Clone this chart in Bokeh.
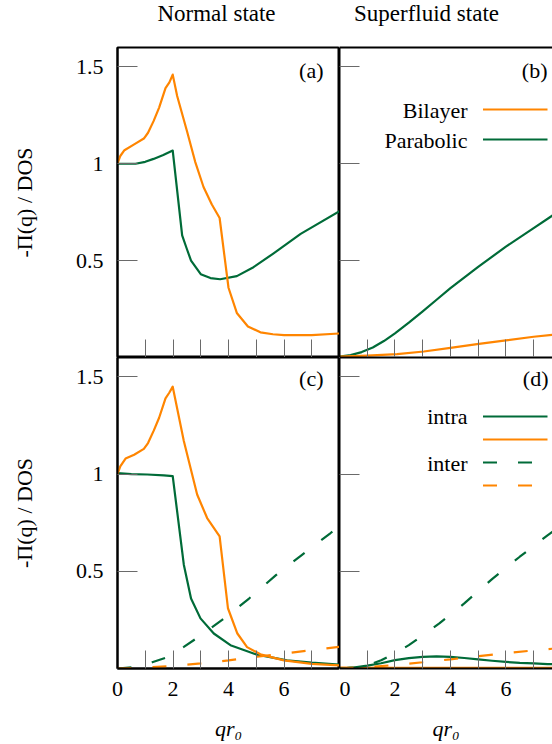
from bokeh.plotting import figure
from bokeh.layouts import column, row
from bokeh.models import Range1d, FixedTicker, Label, Arrow, LinearAxis
from bokeh.embed import file_html
from bokeh.resources import INLINE

# ---------------- data ----------------
# (a) normal state
a_bilayer_x = [0, 0.1, 0.25, 0.6, 0.95, 1.1, 1.3, 1.5, 1.73, 1.87, 1.99, 2.15, 2.5, 2.8, 3.1, 3.4, 3.68, 4.0, 4.3, 4.7, 5.15, 5.6, 6.0, 7.0, 8.0]
a_bilayer_y = [1.0, 1.04, 1.07, 1.10, 1.13, 1.16, 1.22, 1.29, 1.39, 1.42, 1.46, 1.35, 1.17, 1.01, 0.88, 0.79, 0.72, 0.36, 0.23, 0.16, 0.13, 0.12, 0.115, 0.115, 0.124]
a_parabolic_x = [0, 0.65, 1.0, 1.3, 1.65, 1.99, 2.33, 2.5, 2.65, 3.0, 3.35, 3.7, 4.3, 4.9, 5.6, 6.6, 8.0]
a_parabolic_y = [1.0, 1.0, 1.01, 1.025, 1.045, 1.068, 0.63, 0.56, 0.50, 0.43, 0.41, 0.404, 0.42, 0.466, 0.535, 0.638, 0.755]

# (b) superfluid state
b_bilayer_x = [0, 1.0, 2.08, 3.04, 4.0, 4.96, 6.0, 7.0, 8.0]
b_bilayer_y = [0.005, 0.01, 0.017, 0.031, 0.05, 0.069, 0.088, 0.107, 0.122]
b_parabolic_x = [0, 0.4, 0.8, 1.2, 1.6, 2.0, 2.5, 3.0, 3.5, 4.0, 5.0, 6.0, 7.0, 7.68, 8.0]
b_parabolic_y = [0.005, 0.012, 0.028, 0.052, 0.085, 0.125, 0.18, 0.238, 0.298, 0.358, 0.468, 0.572, 0.668, 0.733, 0.763]

# (c) normal state, intra / inter
c_bilayer_intra_x = [0, 0.1, 0.29, 0.6, 0.95, 1.1, 1.31, 1.5, 1.73, 1.87, 1.99, 2.39, 2.87, 3.23, 3.68, 3.98, 4.32, 4.67, 5.15, 6.0, 7.0, 8.0]
c_bilayer_intra_y = [1.0, 1.04, 1.08, 1.10, 1.13, 1.16, 1.225, 1.29, 1.39, 1.42, 1.45, 1.17, 0.895, 0.774, 0.68, 0.31, 0.18, 0.11, 0.073, 0.042, 0.024, 0.016]
c_parabolic_intra_x = [0, 0.5, 1.07, 1.67, 1.99, 2.39, 2.65, 2.99, 3.47, 4.07, 5.03, 6.11, 7.0, 8.0]
c_parabolic_intra_y = [1.005, 1.0, 0.998, 0.994, 0.99, 0.534, 0.36, 0.258, 0.18, 0.12, 0.071, 0.042, 0.03, 0.02]
c_parabolic_inter_x = [0, 0.5, 1.0, 1.25, 1.75, 2.39, 3.0, 3.77, 4.74, 5.71, 6.65, 7.68, 8.0]
c_parabolic_inter_y = [0.0, 0.006, 0.018, 0.032, 0.056, 0.111, 0.17, 0.25, 0.36, 0.48, 0.585, 0.697, 0.735]
c_bilayer_inter_x = [0, 1, 2, 3, 4, 5, 6, 7, 8]
c_bilayer_inter_y = [0.0, 0.005, 0.013, 0.026, 0.042, 0.06, 0.077, 0.095, 0.112]

# (d) superfluid state, intra / inter
d_parabolic_intra_x = [0, 0.5, 1.0, 1.5, 2.0, 2.5, 3.0, 3.5, 4.0, 4.5, 5.0, 5.5, 6.0, 6.5, 7.0, 7.5, 8.0]
d_parabolic_intra_y = [0.0, 0.005, 0.015, 0.027, 0.043, 0.053, 0.06, 0.062, 0.06, 0.054, 0.047, 0.04, 0.034, 0.029, 0.026, 0.023, 0.021]
d_bilayer_intra_x = [0, 2, 4, 6, 8]
d_bilayer_intra_y = [0.004, 0.003, 0.003, 0.003, 0.003]
d_parabolic_inter_x = [0, 0.5, 1.0, 1.5, 2.0, 2.5, 3.0, 3.6, 4.5, 5.5, 6.5, 7.5, 8.0]
d_parabolic_inter_y = [0.0, 0.004, 0.016, 0.042, 0.078, 0.12, 0.17, 0.232, 0.335, 0.46, 0.575, 0.685, 0.735]
d_bilayer_inter_x = [0, 1, 2, 3, 4, 5, 6, 7, 8]
d_bilayer_inter_y = [0.0, 0.007, 0.018, 0.032, 0.047, 0.063, 0.079, 0.093, 0.106]

y_ticks = [0.5, 1, 1.5]
y_tick_labels = {0.5: "0.5", 1: "1", 1.5: "1.5"}
x_ticks = [0, 2, 4, 6]
x_minor_ticks = [1, 3, 5, 7]

# ---------------- styling ----------------
FONT = "Liberation Serif"
FS = "22px"
ORANGE = "#ff8500"
GREEN = "#006b38"
TICK = "#6a6a6a"
LW = 2.2
DASH = "14 21"
X_FULL = 8.0
X_CUT = 7.68   # right-hand panels are cut by the page edge
Y_MAX = 1.6


def hide_labels(ax):
    ax.major_label_text_font_size = "1px"
    ax.major_label_text_color = None
    ax.major_label_standoff = 0


def make_panel(width, height, x_end, b_left, b_top, b_bottom, x_labels, y_labels, right_panel):
    p = figure(width=width, height=height, x_range=Range1d(0, x_end), y_range=Range1d(0, Y_MAX),
               output_backend="svg", toolbar_location=None,
               min_border_left=b_left, min_border_right=0, min_border_top=b_top, min_border_bottom=b_bottom)
    p.grid.visible = False
    p.background_fill_color = "white"
    p.border_fill_color = "white"

    xa = p.below[0]
    ya = p.left[0]

    xa.ticker = FixedTicker(ticks=x_ticks, minor_ticks=x_minor_ticks)
    xa.major_tick_in = 18
    xa.major_tick_out = 0
    xa.minor_tick_in = 18
    xa.minor_tick_out = 0
    xa.major_tick_line_color = TICK
    xa.minor_tick_line_color = TICK
    xa.axis_line_width = 2
    xa.axis_line_color = "black"
    if x_labels:
        xa.major_label_text_font = FONT
        xa.major_label_text_font_size = FS
        xa.major_label_text_color = "black"
        xa.major_label_standoff = 13
        xa.axis_label = "qr₀"
        xa.axis_label_text_font = FONT
        xa.axis_label_text_font_size = FS
        xa.axis_label_text_font_style = "italic"
        xa.axis_label_text_color = "black"
        xa.axis_label_standoff = 17
    else:
        hide_labels(xa)

    ya.ticker = FixedTicker(ticks=y_ticks, minor_ticks=[])
    ya.major_tick_in = 20
    ya.major_tick_out = 0
    ya.minor_tick_in = 0
    ya.minor_tick_out = 0
    ya.major_tick_line_color = TICK
    ya.axis_line_width = 2
    ya.axis_line_color = "black"
    if y_labels:
        ya.major_label_overrides = y_tick_labels
        ya.major_label_text_font = FONT
        ya.major_label_text_font_size = FS
        ya.major_label_text_color = "black"
        ya.major_label_standoff = 14
        ya.axis_label = "-Π(q) / DOS"
        ya.axis_label_text_font = FONT
        ya.axis_label_text_font_size = FS
        ya.axis_label_text_font_style = "normal"
        ya.axis_label_text_color = "black"
        ya.axis_label_standoff = 36
    else:
        hide_labels(ya)

    if right_panel:
        p.outline_line_color = None
        top = LinearAxis(ticker=FixedTicker(ticks=[]), major_tick_in=0, major_tick_out=0,
                         minor_tick_in=0, minor_tick_out=0,
                         axis_line_width=2, axis_line_color="black")
        hide_labels(top)
        p.add_layout(top, "above")
    else:
        p.outline_line_color = "black"
        p.outline_line_width = 2
    return p


def make_title_strip(width, height):
    p = figure(width=width, height=height, x_range=Range1d(0, 1), y_range=Range1d(0, 1),
               output_backend="svg", toolbar_location=None,
               x_axis_location=None, y_axis_location=None,
               min_border_left=0, min_border_right=0, min_border_top=0, min_border_bottom=0)
    p.grid.visible = False
    p.outline_line_color = None
    p.background_fill_color = "white"
    p.border_fill_color = "white"
    return p


def add_text(p, x, y, text, align="left", size=FS):
    p.add_layout(Label(x=x, y=y, x_units="screen", y_units="screen", text=text,
                       text_align=align, text_baseline="alphabetic", text_font=FONT,
                       text_font_size=size, text_color="black"))


def add_sample(p, x0, x1, y, color, dash="solid"):
    p.add_layout(Arrow(end=None, x_start=x0, y_start=y, x_end=x1, y_end=y,
                       start_units="screen", end_units="screen",
                       line_color=color, line_width=LW, line_dash=dash))


# ---------------- column titles ----------------
ta = make_title_strip(339, 46)
add_text(ta, 216, 33, "Normal state", "center", "23px")
tb = make_title_strip(213, 46)
add_text(tb, 87, 33, "Superfluid state", "center", "23px")

# ---------------- panels ----------------
pa = make_panel(339, 311, X_FULL, 117, 1, 0, False, True, False)
pa.line(a_parabolic_x, a_parabolic_y, line_color=GREEN, line_width=LW, line_join="round")
pa.line(a_bilayer_x, a_bilayer_y, line_color=ORANGE, line_width=LW, line_join="round")
add_text(pa, 206, 287, "(a)", "right")

pb = make_panel(213, 311, X_CUT, 0, 1, 0, False, False, True)
pb.line(b_parabolic_x, b_parabolic_y, line_color=GREEN, line_width=LW, line_join="round")
pb.line(b_bilayer_x, b_bilayer_y, line_color=ORANGE, line_width=LW, line_join="round")
add_text(pb, 208, 287, "(b)", "right")
add_text(pb, 128, 247, "Bilayer", "right")
add_sample(pb, 143.5, 208, 248, ORANGE)
add_text(pb, 128, 217, "Parabolic", "right")
add_sample(pb, 143.5, 208, 218, GREEN)

pc = make_panel(339, 387, X_FULL, 117, 0, 76, True, True, False)
pc.line(c_parabolic_intra_x, c_parabolic_intra_y, line_color=GREEN, line_width=LW, line_join="round")
pc.line(c_bilayer_intra_x, c_bilayer_intra_y, line_color=ORANGE, line_width=LW, line_join="round")
pc.line(c_parabolic_inter_x, c_parabolic_inter_y, line_color=GREEN, line_width=LW, line_dash=DASH)
pc.line(c_bilayer_inter_x, c_bilayer_inter_y, line_color=ORANGE, line_width=LW, line_dash=DASH)
add_text(pc, 206, 290, "(c)", "right")

pd = make_panel(213, 387, X_CUT, 0, 0, 76, True, False, True)
pd.line(d_bilayer_intra_x, d_bilayer_intra_y, line_color=ORANGE, line_width=LW, line_join="round")
pd.line(d_parabolic_intra_x, d_parabolic_intra_y, line_color=GREEN, line_width=LW, line_join="round")
pd.line(d_parabolic_inter_x, d_parabolic_inter_y, line_color=GREEN, line_width=LW, line_dash=DASH)
pd.line(d_bilayer_inter_x, d_bilayer_inter_y, line_color=ORANGE, line_width=LW, line_dash=DASH)
add_text(pd, 209, 290, "(d)", "right")
add_text(pd, 128, 252, "intra", "right")
add_sample(pd, 143.5, 208, 252, GREEN)
add_sample(pd, 143.5, 208, 229, ORANGE)
add_text(pd, 128, 205, "inter", "right")
add_sample(pd, 143.5, 208, 206, GREEN, DASH)
add_sample(pd, 143.5, 208, 183, ORANGE, DASH)

layout = column(row(ta, tb), row(pa, pb), row(pc, pd))

with open("out.html", "w") as f:
    f.write(file_html(layout, INLINE))
